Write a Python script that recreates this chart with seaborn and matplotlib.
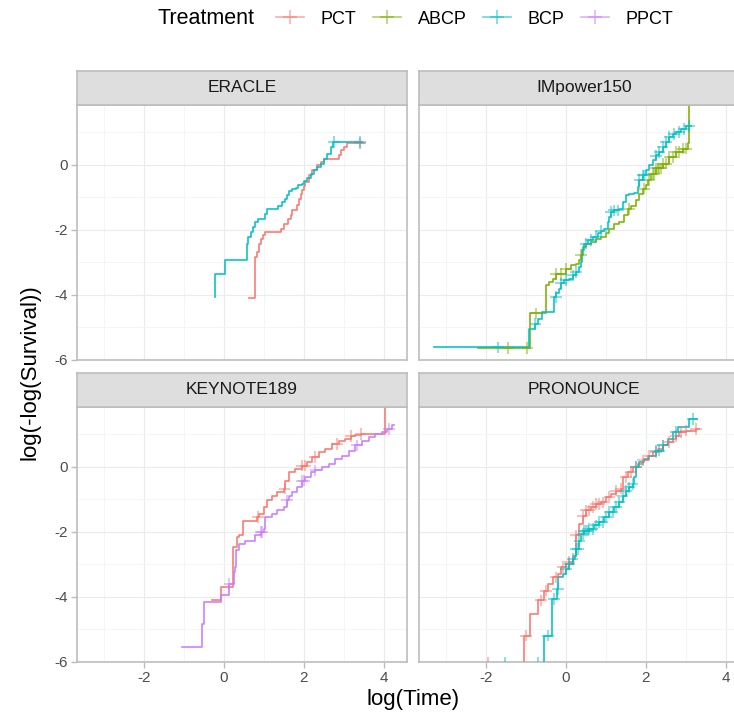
import numpy as np
import pandas as pd
import matplotlib
matplotlib.use("Agg")
import matplotlib.pyplot as plt
from matplotlib.lines import Line2D
import seaborn as sns

plt.rcParams['font.family'] = ['Liberation Sans', 'DejaVu Sans']
plt.rcParams['axes.unicode_minus'] = False

# ---------------- data (log(time), log(-log(S))) ----------------
trials = ["ERACLE", "IMpower150", "KEYNOTE189", "PRONOUNCE"]
treatments = ["PCT", "ABCP", "BCP", "PPCT"]
colors = ["#F8766D", "#7CAE00", "#00BFC4", "#C77CFF"]

# ERACLE
eracle_pct_x = [0.63, 0.77, 0.79, 0.83, 0.87, 0.92, 0.98, 1.04, 1.44, 1.50, 1.60, 1.67, 1.71, 1.84, 1.88, 1.92,
                1.96, 2.00, 2.04, 2.12, 2.21, 2.33, 2.42, 2.50, 2.88, 2.92, 3.00, 3.08, 3.50]
eracle_pct_y = [-4.10, -3.00, -2.84, -2.69, -2.45, -2.28, -2.18, -2.09, -1.97, -1.82, -1.69, -1.56, -1.41, -1.25,
                -1.05, -0.89, -0.79, -0.67, -0.53, -0.33, -0.18, -0.02, 0.08, 0.18, 0.29, 0.44, 0.54, 0.65, 0.65]
eracle_pct_cens = [3.40]
eracle_bcp_x = [-0.21, -0.21, 0.04, 0.57, 0.61, 0.67, 0.72, 0.79, 0.86, 1.03, 1.09, 1.35, 1.46, 1.52, 1.58, 1.64,
                1.71, 1.81, 1.86, 1.96, 2.00, 2.08, 2.17, 2.25, 2.34, 2.42, 2.50, 2.58, 2.67, 2.73, 3.46]
eracle_bcp_y = [-4.07, -3.36, -2.94, -2.43, -2.23, -2.07, -1.92, -1.77, -1.66, -1.51, -1.38, -1.28, -1.15, -1.05,
                -0.94, -0.81, -0.74, -0.72, -0.64, -0.59, -0.51, -0.41, -0.28, -0.18, -0.07, 0.03, 0.18, 0.34,
                0.54, 0.70, 0.70]
eracle_bcp_cens = [2.76, 3.40]

# IMpower150
imp_abcp_x = [-2.20, -0.90, -0.50, -0.41, -0.33, -0.25, 0.00, 0.13, 0.25, 0.34, 0.38, 0.42, 0.50, 0.63, 0.75,
              0.88, 1.00, 1.09, 1.21, 1.34, 1.46, 1.55, 1.63, 1.75, 1.84, 1.92, 2.00, 2.05, 2.13, 2.25, 2.42,
              2.59, 2.75, 2.92, 3.05, 3.09]
imp_abcp_y = [-5.65, -4.58, -3.71, -3.61, -3.51, -3.36, -3.20, -3.10, -3.05, -2.94, -2.79, -2.53, -2.43, -2.38,
              -2.28, -2.23, -2.12, -1.97, -1.82, -1.76, -1.56, -1.36, -1.28, -1.10, -0.89, -0.74, -0.64, -0.48,
              -0.28, -0.12, 0.03, 0.23, 0.39, 0.49, 0.65, 3.00]
imp_abcp_cens = [-1.44, -0.96, -0.75, -0.25, -0.12, 0.00, 0.38, 1.59, 1.96, 2.09, 2.17, 2.21, 2.25, 2.30, 2.34,
                 2.38, 2.42, 2.50, 2.59, 2.67, 2.75, 2.84, 2.92, 3.00]
imp_bcp_x = [-3.29, -0.93, -0.76, -0.70, -0.59, -0.30, -0.24, -0.16, -0.12, -0.04, 0.09, 0.17, 0.25, 0.34, 0.38,
             0.40, 0.46, 0.55, 0.67, 0.80, 0.88, 0.96, 1.05, 1.09, 1.13, 1.21, 1.34, 1.42, 1.50, 1.59, 1.71, 1.80,
             1.84, 1.92, 2.00, 2.09, 2.17, 2.25, 2.34, 2.42, 2.50, 2.59, 2.67, 2.75, 2.88, 3.00, 3.13]
imp_bcp_y = [-5.63, -5.05, -4.91, -4.74, -4.53, -4.07, -3.95, -3.82, -3.66, -3.56, -3.51, -3.41, -3.30, -3.15,
             -3.00, -2.64, -2.43, -2.33, -2.22, -2.12, -2.04, -1.97, -1.76, -1.61, -1.46, -1.41, -1.36, -1.15,
             -0.95, -0.89, -0.87, -0.69, -0.48, -0.33, -0.18, -0.02, 0.13, 0.28, 0.39, 0.54, 0.70, 0.85, 0.95,
             1.00, 1.10, 1.18, 1.18]
imp_bcp_cens = [-1.70, -0.76, -0.25, -0.12, 0.00, 0.17, 0.25, 0.50, 0.63, 0.75, 0.88, 1.13, 1.21, 1.30, 1.84,
                1.92, 1.96, 2.25, 2.34, 2.42, 2.50, 2.59, 2.71, 2.84, 2.96, 3.09]

# KEYNOTE189
key_pct_x = [-0.29, -0.07, 0.23, 0.33, 0.38, 0.48, 0.82, 0.87, 1.00, 1.08, 1.21, 1.33, 1.50, 1.54, 1.63, 1.79,
             1.96, 2.08, 2.21, 2.38, 2.54, 2.71, 2.88, 3.04, 3.17, 3.29, 3.42, 4.04]
key_pct_y = [-4.12, -3.71, -2.46, -2.17, -2.12, -1.66, -1.56, -1.46, -1.25, -1.04, -0.89, -0.79, -0.68, -0.43,
             -0.17, -0.07, 0.03, 0.13, 0.29, 0.44, 0.54, 0.70, 0.80, 0.85, 0.95, 0.98, 1.00, 3.00]
key_pct_cens = [0.86, 1.52, 1.96, 2.04, 2.27, 2.83, 3.17, 3.42]
key_ppct_x = [-1.04, -0.54, -0.50, -0.07, 0.14, 0.25, 0.28, 0.31, 0.38, 0.54, 0.79, 0.92, 1.00, 1.04, 1.21, 1.33,
              1.50, 1.58, 1.63, 1.71, 1.83, 1.96, 2.04, 2.17, 2.29, 2.46, 2.63, 2.79, 2.96, 3.13, 3.29, 3.46,
              3.63, 3.79, 3.96, 4.08, 4.21, 4.25]
key_ppct_y = [-5.56, -4.86, -4.17, -3.94, -3.61, -3.25, -3.10, -2.58, -2.38, -2.28, -2.12, -2.02, -1.92, -1.56,
              -1.46, -1.35, -1.25, -1.04, -0.89, -0.79, -0.64, -0.43, -0.33, -0.17, -0.12, -0.02, 0.08, 0.24,
              0.34, 0.49, 0.65, 0.80, 0.90, 1.00, 1.06, 1.16, 1.29, 1.29]
key_ppct_cens = [0.14, 0.92, 0.96, 1.58, 1.96, 2.00, 2.29, 3.33, 4.13]

# PRONOUNCE
pro_pct_x = [-2.20, -1.05, -0.89, -0.70, -0.54, -0.45, -0.33, -0.20, -0.12, 0.00, 0.09, 0.17, 0.25, 0.34, 0.42,
             0.50, 0.63, 0.75, 0.88, 1.00, 1.13, 1.25, 1.38, 1.42, 1.55, 1.67, 1.80, 1.92, 2.05, 2.17, 2.30,
             2.42, 2.55, 2.67, 2.75, 2.84, 3.00, 3.25, 3.34]
pro_pct_y = [-6.04, -5.20, -4.53, -4.12, -3.82, -3.61, -3.41, -3.30, -3.10, -2.99, -2.94, -2.74, -2.12, -1.76,
             -1.51, -1.35, -1.25, -1.15, -1.10, -0.94, -0.84, -0.74, -0.68, -0.33, -0.17, -0.02, 0.08, 0.19,
             0.34, 0.44, 0.54, 0.65, 0.75, 0.85, 0.95, 1.06, 1.11, 1.16, 1.16]
pro_pct_cens = [-1.95, -0.99, -0.62, -0.50, -0.25, -0.08, 0.09, 0.25, 0.42, 0.50, 0.59, 0.67, 0.75, 0.84, 0.92,
                1.09, 1.25, 1.38, 1.50, 1.63, 1.75, 1.92, 2.09, 2.25, 2.42, 2.59, 2.75, 2.88, 3.00, 3.25]
pro_bcp_x = [-1.75, -0.54, -0.35, -0.22, -0.19, -0.08, 0.00, 0.09, 0.17, 0.23, 0.25, 0.34, 0.38, 0.46, 0.59,
             0.71, 0.84, 0.96, 1.09, 1.21, 1.34, 1.42, 1.50, 1.59, 1.67, 1.71, 1.75, 1.84, 1.96, 2.09, 2.25,
             2.42, 2.55, 2.67, 2.80, 3.09, 3.27]
pro_bcp_y = [-6.04, -5.20, -4.07, -3.76, -3.41, -3.30, -3.15, -2.99, -2.84, -2.74, -2.53, -2.28, -2.07, -1.97,
             -1.92, -1.81, -1.71, -1.56, -1.40, -1.25, -1.10, -0.89, -0.74, -0.64, -0.53, -0.33, -0.02, 0.13,
             0.24, 0.34, 0.49, 0.65, 0.85, 1.06, 1.21, 1.47, 1.47]
pro_bcp_cens = [-1.51, -0.70, -0.45, -0.29, -0.20, 0.00, 0.09, 0.17, 0.25, 0.30, 0.34, 0.42, 0.46, 0.50, 0.55,
                0.59, 0.67, 0.75, 0.84, 0.92, 1.00, 1.09, 1.17, 1.25, 1.34, 1.42, 1.50, 1.59, 1.67, 1.75, 2.25,
                2.34, 2.42, 2.75, 3.17]

curves = [
    ("ERACLE", "PCT", eracle_pct_x, eracle_pct_y, eracle_pct_cens),
    ("ERACLE", "BCP", eracle_bcp_x, eracle_bcp_y, eracle_bcp_cens),
    ("IMpower150", "ABCP", imp_abcp_x, imp_abcp_y, imp_abcp_cens),
    ("IMpower150", "BCP", imp_bcp_x, imp_bcp_y, imp_bcp_cens),
    ("KEYNOTE189", "PCT", key_pct_x, key_pct_y, key_pct_cens),
    ("KEYNOTE189", "PPCT", key_ppct_x, key_ppct_y, key_ppct_cens),
    ("PRONOUNCE", "PCT", pro_pct_x, pro_pct_y, pro_pct_cens),
    ("PRONOUNCE", "BCP", pro_bcp_x, pro_bcp_y, pro_bcp_cens),
]

rows, crows = [], []
for trial, trt, xs, ys, cens in curves:
    for xv, yv in zip(xs, ys):
        rows.append((trial, trt, xv, yv))
    xs_a, ys_a = np.array(xs), np.array(ys)
    for c in cens:
        i = max(np.searchsorted(xs_a, c, side='right') - 1, 0)
        crows.append((trial, trt, c, ys_a[i]))
steps = pd.DataFrame(rows, columns=["Trial", "Treatment", "logt", "lls"])
cens_df = pd.DataFrame(crows, columns=["Trial", "Treatment", "logt", "lls"])
palette = dict(zip(treatments, colors))

# ---------------- layout ----------------
W, H = 734, 716
fig = plt.figure(figsize=(W / 100, H / 100), dpi=100)
fig.patch.set_facecolor("white")

pw, ph, sh = 330, 255, 34
lefts = {"ERACLE": 77, "IMpower150": 419, "KEYNOTE189": 77, "PRONOUNCE": 419}
bottoms = {"ERACLE": 359.5, "IMpower150": 359.5, "KEYNOTE189": 661.5, "PRONOUNCE": 661.5}
border = "#BDBDBD"

for trial in trials:
    l, b = lefts[trial], bottoms[trial]
    ax = fig.add_axes([l / W, 1 - b / H, pw / W, ph / H])
    ax.set_facecolor("white")
    sub = steps[steps.Trial == trial]
    order = [t for t in treatments if t in sub.Treatment.unique()]
    sns.lineplot(data=sub, x="logt", y="lls", hue="Treatment", hue_order=order, palette=palette,
                 estimator=None, sort=False, drawstyle="steps-post", lw=1.2, alpha=0.95,
                 legend=False, ax=ax, zorder=3)
    csub = cens_df[cens_df.Trial == trial]
    sns.scatterplot(data=csub, x="logt", y="lls", hue="Treatment", hue_order=order, palette=palette,
                    marker="+", s=70, linewidth=1.1, alpha=0.6, legend=False, ax=ax, zorder=4)
    ax.set_xlim(-3.67, 4.58)
    ax.set_ylim(-6, 1.85)
    ax.set_xticks([-2, 0, 2, 4])
    ax.set_xticks([-3, -1, 1, 3], minor=True)
    ax.set_yticks([-6, -4, -2, 0])
    ax.set_yticks([-5, -3, -1, 1], minor=True)
    ax.grid(which="major", color="#EBEBEB", lw=0.8, zorder=0)
    ax.grid(which="minor", color="#F4F4F4", lw=0.6, zorder=0)
    ax.set_axisbelow(True)
    ax.set_xlabel("")
    ax.set_ylabel("")
    for s in ax.spines.values():
        s.set_color(border)
        s.set_linewidth(1.2)
    ax.tick_params(which="minor", length=0)
    ax.tick_params(which="major", length=4, width=1, color=border, labelcolor="#4D4D4D",
                   labelsize=11, pad=2.5)
    if l > 100:
        ax.tick_params(axis="y", length=0, labelleft=False)
    if b < 400:
        ax.tick_params(axis="x", length=0, labelbottom=False)

    sax = fig.add_axes([l / W, 1 - (b - ph) / H, pw / W, sh / H])
    sax.set_facecolor("#DEDEDE")
    sax.set_xticks([])
    sax.set_yticks([])
    for s in sax.spines.values():
        s.set_color(border)
        s.set_linewidth(1.2)
    sax.text(0.5, 0.5, trial, ha="center", va="center", fontsize=12.5, color="#1A1A1A",
             transform=sax.transAxes)

fig.text(413 / W, 1 - 700 / H, "log(Time)", ha="center", va="center", fontsize=16, color="#000000")
fig.text(30 / W, 1 - 372 / H, "log(-log(Survival))", ha="center", va="center", rotation=90,
         fontsize=16, color="#000000")

# legend
fig.text(158 / W, 1 - 19 / H, "Treatment", ha="left", va="center", fontsize=15.5, color="#000000")
handles = [Line2D([0], [0], color=c, lw=1.2, marker="+", markersize=10, markeredgewidth=1.1, alpha=0.6)
           for c in colors]
fig.legend(handles, treatments, loc="center left", bbox_to_anchor=(276 / W, 1 - 19 / H), ncol=4,
           frameon=False, fontsize=13, handlelength=1.55, handletextpad=0.94, columnspacing=0.89,
           borderpad=0, borderaxespad=0, numpoints=1)

fig.savefig("out.png", dpi=100)
